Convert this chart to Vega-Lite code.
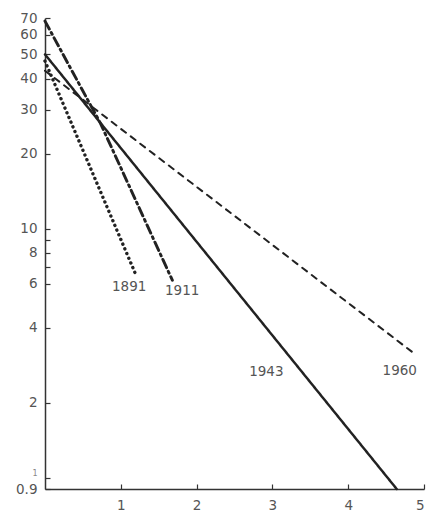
{
  "$schema": "https://vega.github.io/schema/vega-lite/v6.json",
  "width": 379,
  "height": 471,
  "autosize": "none",
  "padding": {"left": 45, "top": 18, "right": 3, "bottom": 24},
  "background": "white",
  "config": {
    "view": {"stroke": null},
    "font": "DejaVu Sans",
    "axis": {"grid": false, "domainColor": "#333", "domainWidth": 1.5, "tickColor": "#333", "tickWidth": 1.2, "labelColor": "#555", "labelFont": "DejaVu Sans", "labelFontSize": 13.5, "title": null, "labelOverlap": false}
  },
  "datasets": {
    "lines": [
      {"series": "1891", "x": 0, "y": 47},
      {"series": "1891", "x": 1.21, "y": 6.4},
      {"series": "1911", "x": 0, "y": 68},
      {"series": "1911", "x": 0.73, "y": 26.5},
      {"series": "1911", "x": 1.68, "y": 6.2},
      {"series": "1943", "x": 0, "y": 50},
      {"series": "1943", "x": 4.64, "y": 0.9},
      {"series": "1960", "x": 0, "y": 43},
      {"series": "1960", "x": 4.87, "y": 3.15}
    ],
    "labels": [
      {"label": "1891", "x": 1.11, "y": 5.8},
      {"label": "1911", "x": 1.81, "y": 5.6},
      {"label": "1943", "x": 2.92, "y": 2.66},
      {"label": "1960", "x": 4.68, "y": 2.68}
    ]
  },
  "layer": [
    {
      "data": {"name": "lines"},
      "mark": {"type": "line", "color": "#222", "strokeCap": "round", "clip": false},
      "encoding": {
        "x": {"field": "x", "type": "quantitative", "scale": {"domain": [0, 5], "nice": false},
          "axis": {"values": [1, 2, 3, 4, 5], "tickSize": -5, "labelPadding": 14, "format": "d"}},
        "y": {"field": "y", "type": "quantitative", "scale": {"type": "log", "domain": [0.9, 70], "nice": false},
          "axis": {"values": [70, 60, 50, 40, 30, 20, 10, 9, 8, 7, 6, 4, 2, 1, 0.9], "tickSize": -5, "labelPadding": 13, "format": "~g",
            "labelExpr": "datum.value == 9 || datum.value == 7 ? '' : datum.label",
            "labelFontSize": {"condition": {"test": "datum.value == 1", "value": 8}, "value": 13.5},
            "labelColor": {"condition": {"test": "datum.value == 1", "value": "#888"}, "value": "#555"},
            "labelBaseline": {"condition": {"test": "datum.value == 1", "value": "bottom"}, "value": "middle"}}},
        "detail": {"field": "series"},
        "strokeDash": {"field": "series", "type": "nominal", "legend": null,
          "scale": {"domain": ["1891", "1911", "1943", "1960"], "range": [[0.1, 5], [9, 4, 2, 4], [1, 0], [6, 6]]}},
        "strokeWidth": {"field": "series", "type": "nominal", "legend": null,
          "scale": {"domain": ["1891", "1911", "1943", "1960"], "range": [3.4, 2, 1.8, 2]}}
      }
    },
    {
      "data": {"name": "labels"},
      "mark": {"type": "text", "font": "DejaVu Sans", "fontSize": 13.5, "color": "#555"},
      "encoding": {
        "x": {"field": "x", "type": "quantitative"},
        "y": {"field": "y", "type": "quantitative"},
        "text": {"field": "label"}
      }
    }
  ]
}
